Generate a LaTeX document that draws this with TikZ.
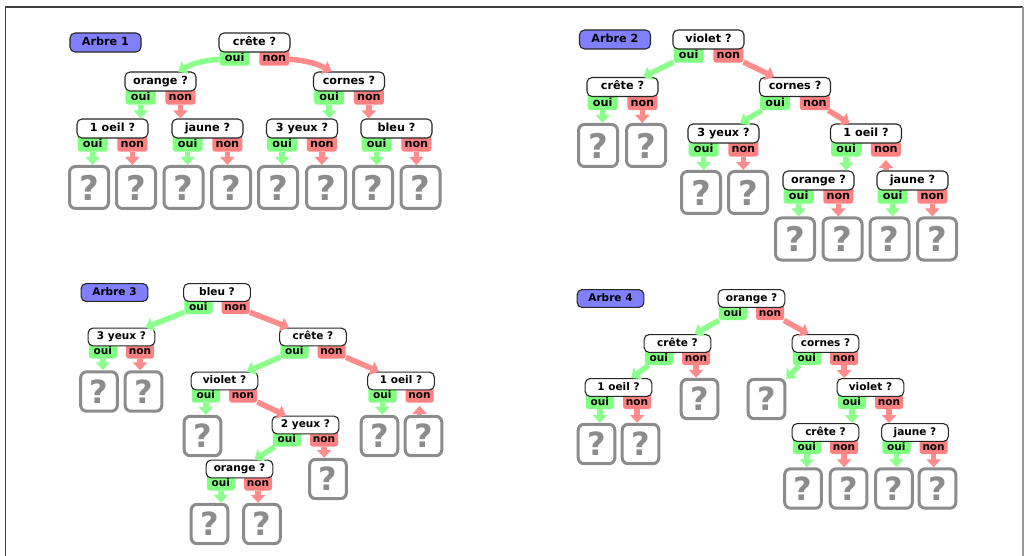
\documentclass[tikz,border=0pt]{standalone}
\usepackage{fontspec}
\setmainfont{DejaVu Sans}
\usepackage{tikz}
\usetikzlibrary{arrows.meta,backgrounds,positioning}

% question box with its oui / non tabs
\newcommand{\qnode}[3]{%
	\node[qbox] (#1) at (#2) {#3};
	\begin{pgfonlayer}{background}
		\node[tab, fill=green!50, anchor=north west] (#1-oui) at ([xshift=1pt,yshift=3pt]#1.south west) {oui};
		\node[tab, fill=red!50, anchor=north east] (#1-non) at ([xshift=-1pt,yshift=3pt]#1.south east) {non};
	\end{pgfonlayer}
}

\begin{document}
\begin{tikzpicture}[x=1pt, y=-1pt,
		qbox/.style={draw=black!85, fill=white, rounded corners=5pt, line width=1.1pt,
			minimum width=71pt, minimum height=19pt, inner sep=0pt,
			text height=8pt, text depth=2pt, font=\bfseries\fontsize{11.2}{12}\selectfont},
		arbre/.style={qbox, fill=blue!50},
		tab/.style={rounded corners=3pt, minimum width=30pt, minimum height=16pt, inner sep=0pt,
			text height=10pt, text depth=2pt, font=\bfseries\fontsize{11.2}{12}\selectfont},
		leaf/.style={draw=black!45, line width=3pt, rounded corners=6pt, fill=white,
			minimum width=39pt, minimum height=42pt, inner sep=0pt,
			text=black!45, font=\bfseries\fontsize{34}{34}\selectfont},
		ouiarrow/.style={draw=green!45, line width=5.5pt, -{Triangle[length=8pt,width=14pt]}},
		nonarrow/.style={draw=red!45, line width=5.5pt, -{Triangle[length=8pt,width=14pt]}},
		small/.style={every node/.append style={scale=.94}}]
	\useasboundingbox (0,0) rectangle (1025,556);
	% frame
	\draw[black!75, line width=1.2pt] (5.5,556) |- (1023,7);
	\draw[black!40, line width=1.2pt] (1023,7) -- (1023,556);

	% Arbre 1
	\node[arbre] (a1) at (105.5,42.5) {Arbre 1};
	\qnode{t1crete}{254.5,42.5}{crête ?}
	\qnode{t1orange}{160.5,81.5}{orange ?}
	\qnode{t1cornes}{349,81.5}{cornes ?}
	\qnode{t1oeil}{112.5,128.5}{1 oeil ?}
	\qnode{t1jaune}{207.5,128.5}{jaune ?}
	\qnode{t1yeux}{302,128.5}{3 yeux ?}
	\qnode{t1bleu}{396.5,128.5}{bleu ?}
	\foreach \x [count=\i] in {89,136,183.5,231,278,326,373,420.5}
		\node[leaf] (t1q\i) at (\x,187.5) {?};
	\draw[ouiarrow] (t1crete-oui) to[bend right=12] (t1orange);
	\draw[nonarrow] (t1crete-non) to[bend left=12] (t1cornes);
	\foreach \p/\a/\b in {t1orange/t1oeil/t1jaune, t1cornes/t1yeux/t1bleu,
			t1oeil/t1q1/t1q2, t1jaune/t1q3/t1q4, t1yeux/t1q5/t1q6, t1bleu/t1q7/t1q8} {
		\draw[ouiarrow] (\p-oui) -- (\p-oui |- \a.north);
		\draw[nonarrow] (\p-non) -- (\p-non |- \b.north);
	}

	% Arbre 2
	\node[arbre] (a2) at (615,39.5) {Arbre 2};
	\qnode{t2violet}{708.5,39.5}{violet ?}
	\qnode{t2crete}{622.5,87}{crête ?}
	\qnode{t2cornes}{795,87}{cornes ?}
	\qnode{t2yeux}{723.5,133.5}{3 yeux ?}
	\qnode{t2oeil}{866,133.5}{1 oeil ?}
	\qnode{t2orange}{818.5,180.5}{orange ?}
	\qnode{t2jaune}{912.5,180.5}{jaune ?}
	\node[leaf] (t2q1) at (598,145.5) {?};
	\node[leaf] (t2q2) at (646,145.5) {?};
	\node[leaf] (t2q3) at (701,192.5) {?};
	\node[leaf] (t2q4) at (748,192.5) {?};
	\foreach \x [count=\i from 5] in {795,842.5,889.5,937}
		\node[leaf] (t2q\i) at (\x,239) {?};
	\draw[ouiarrow] (t2violet-oui) -- (t2crete);
	\draw[nonarrow] (t2violet-non) -- (t2cornes);
	\draw[ouiarrow] (t2cornes-oui) -- (t2yeux);
	\draw[nonarrow] (t2cornes-non) -- (t2oeil);
	\draw[ouiarrow] (t2oeil-oui) -- (t2oeil-oui |- t2orange.north);
	\draw[nonarrow, shorten >=3pt] (t2oeil-non |- t2jaune.north) -- (t2oeil-non);
	\foreach \p/\a/\b in {t2crete/t2q1/t2q2, t2yeux/t2q3/t2q4,
			t2orange/t2q5/t2q6, t2jaune/t2q7/t2q8} {
		\draw[ouiarrow] (\p-oui) -- (\p-oui |- \a.north);
		\draw[nonarrow] (\p-non) -- (\p-non |- \b.north);
	}

	% Arbre 3
	\begin{scope}[small]
		\node[arbre] (a3) at (114.5,292.5) {Arbre 3};
		\qnode{t3bleu}{217,292.5}{bleu ?}
		\qnode{t3yeux}{121.5,337}{3 yeux ?}
		\qnode{t3crete}{313,337}{crête ?}
		\qnode{t3violet}{224.5,381}{violet ?}
		\qnode{t3oeil}{401,381}{1 oeil ?}
		\qnode{t3deux}{305.5,425}{2 yeux ?}
		\qnode{t3orange}{239.5,469}{orange ?}
		\node[leaf] (t3q1) at (99,391.5) {?};
		\node[leaf] (t3q2) at (143.5,391.5) {?};
		\node[leaf] (t3q3) at (202.5,436) {?};
		\node[leaf] (t3q4) at (379.5,436) {?};
		\node[leaf] (t3q5) at (423.5,436) {?};
		\node[leaf] (t3q6) at (328,479) {?};
		\node[leaf] (t3q7) at (209.5,524) {?};
		\node[leaf] (t3q8) at (262,524) {?};
		\draw[ouiarrow] (t3bleu-oui) -- (t3yeux);
		\draw[nonarrow] (t3bleu-non) -- (t3crete);
		\draw[ouiarrow] (t3crete-oui) -- (t3violet);
		\draw[nonarrow] (t3crete-non) -- (t3oeil);
		\draw[nonarrow] (t3violet-non) -- (t3deux);
		\draw[ouiarrow] (t3deux-oui) -- (t3orange);
		\draw[ouiarrow] (t3violet-oui) -- (t3violet-oui |- t3q3.north);
		\draw[ouiarrow] (t3oeil-oui) -- (t3oeil-oui |- t3q4.north);
		\draw[nonarrow, shorten >=3pt] (t3oeil-non |- t3q5.north) -- (t3oeil-non);
		\draw[nonarrow] (t3deux-non) -- (t3deux-non |- t3q6.north);
		\foreach \p/\a/\b in {t3yeux/t3q1/t3q2, t3orange/t3q7/t3q8} {
			\draw[ouiarrow] (\p-oui) -- (\p-oui |- \a.north);
			\draw[nonarrow] (\p-non) -- (\p-non |- \b.north);
		}
	\end{scope}

	% Arbre 4
	\begin{scope}[small]
		\node[arbre] (a4) at (610.5,298.5) {Arbre 4};
		\qnode{t4orange}{751.5,298.5}{orange ?}
		\qnode{t4crete}{677.5,343.5}{crête ?}
		\qnode{t4cornes}{825.5,343.5}{cornes ?}
		\qnode{t4oeil}{618.5,387.5}{1 oeil ?}
		\qnode{t4violet}{870.5,387.5}{violet ?}
		\qnode{t4creteb}{825.5,432.5}{crête ?}
		\qnode{t4jaune}{915,432.5}{jaune ?}
		\node[leaf] (t4q1) at (596.5,444) {?};
		\node[leaf] (t4q2) at (640.5,444) {?};
		\node[leaf] (t4q3) at (699.5,399) {?};
		\node[leaf] (t4q4) at (766.5,399) {?};
		\foreach \x [count=\i from 5] in {803,848.5,894,937.5}
			\node[leaf] (t4q\i) at (\x,488.5) {?};
		\draw[ouiarrow] (t4orange-oui) -- (t4crete);
		\draw[nonarrow] (t4orange-non) -- (t4cornes);
		\draw[ouiarrow] (t4crete-oui) -- (t4oeil);
		\draw[ouiarrow] (t4cornes-oui) -- (t4q4);
		\draw[nonarrow] (t4crete-non) -- (t4crete-non |- t4q3.north);
		\draw[nonarrow] (t4cornes-non) -- (t4cornes-non |- t4violet.north);
		\foreach \p/\a/\b in {t4oeil/t4q1/t4q2, t4violet/t4creteb/t4jaune,
				t4creteb/t4q5/t4q6, t4jaune/t4q7/t4q8} {
			\draw[ouiarrow] (\p-oui) -- (\p-oui |- \a.north);
			\draw[nonarrow] (\p-non) -- (\p-non |- \b.north);
		}
	\end{scope}
\end{tikzpicture}
\end{document}
